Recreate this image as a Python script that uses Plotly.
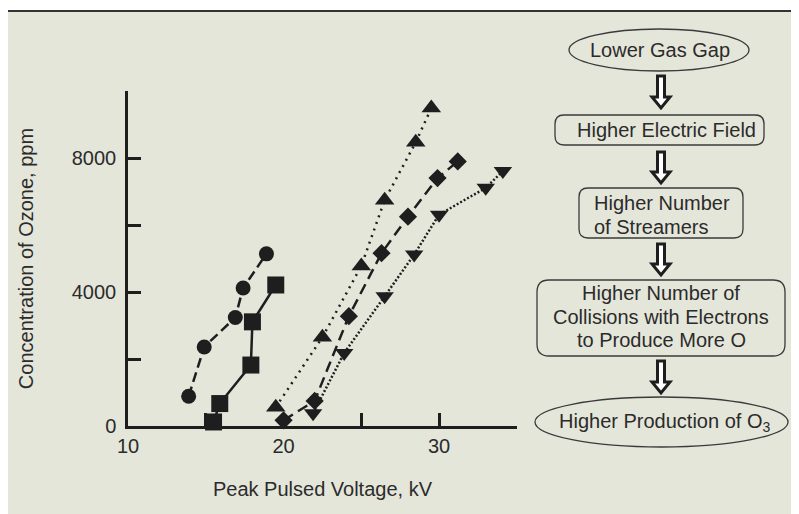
import plotly.graph_objects as go

# ---------------- data ----------------
circ_x = [13.9, 14.9, 16.9, 17.4, 18.9]
circ_y = [890, 2360, 3240, 4120, 5140]
sq_x = [15.5, 15.9, 17.9, 18.0, 19.5]
sq_y = [120, 670, 1820, 3110, 4210]
tri_up_x = [19.5, 22.5, 25.0, 26.5, 28.5, 29.5]
tri_up_y = [560, 2650, 4780, 6740, 8470, 9490]
dia_x = [20.0, 22.0, 24.2, 26.3, 28.0, 29.9, 31.2]
dia_y = [170, 750, 3280, 5160, 6250, 7400, 7900]
tri_dn_x = [21.9, 23.9, 26.5, 28.4, 30.0, 33.0, 34.1]
tri_dn_y = [380, 2180, 3870, 5120, 6310, 7110, 7610]

x_tickvals = [10, 20, 30]
x_ticktext = ["10", "20", "30"]
y_tickvals = [0, 4000, 8000]
y_ticktext = ["0", "4000", "8000"]

flow_lines = [
    ["Lower Gas Gap"],
    ["Higher Electric Field"],
    ["Higher Number", "of Streamers"],
    ["Higher Number of", "Collisions with Electrons", "to Produce More O"],
    ["Higher Production of O<sub>3</sub>"],
]

# ---------------- style ----------------
BG = "#E5E6DA"
INK = "#1e1e1e"
TXT = "#2b2b2b"
FONT = "Liberation Sans, Arial, sans-serif"
FS = 20
OFF = 8  # page body margin
W, H = 799 - OFF, 514 - OFF
# plot area in reference pixels: x 128..517, y 91..426
PW, PH = 389, 335
L, T = 128 - OFF, 91 - OFF
R, B = W - L - PW, H - T - PH


def px(x):
    return (x - 128) / PW


def py(y):
    return (426 - y) / PH


fig = go.Figure()

series = [
    (circ_x, circ_y, "circle", 15, "10px,5px"),
    (sq_x, sq_y, "square", 17, "solid"),
    (tri_up_x, tri_up_y, "triangle-up", 17, "2px,5px"),
    (dia_x, dia_y, "diamond", 14, "11px,6px"),
    (tri_dn_x, tri_dn_y, "triangle-down", 16, "2px,2px"),
]
for xs, ys, sym, sz, dash in series:
    fig.add_trace(go.Scatter(
        x=xs, y=ys, mode="lines+markers",
        line=dict(color=INK, width=2.5, dash=dash),
        marker=dict(symbol=sym, size=sz, color=INK, line=dict(width=0)),
        cliponaxis=False, showlegend=False,
    ))

shapes = []
shapes.append(dict(type="rect", xref="paper", yref="paper", layer="below",
                   x0=px(5), x1=px(830), y0=py(540), y1=py(11),
                   fillcolor=BG, line=dict(width=0)))
shapes.append(dict(type="line", xref="paper", yref="paper",
                   x0=px(5), x1=px(830), y0=py(11), y1=py(11),
                   line=dict(color="#333333", width=1.8)))
shapes.append(dict(type="line", xref="paper", yref="paper",
                   x0=px(5.5), x1=px(5.5), y0=py(11), y1=py(540),
                   line=dict(color="#333333", width=1.8)))


def rrect(x0, y0, x1, y1, r=9):
    pts = [
        ("M", [(x0 + r, y0)]),
        ("L", [(x1 - r, y0)]),
        ("Q", [(x1, y0), (x1, y0 + r)]),
        ("L", [(x1, y1 - r)]),
        ("Q", [(x1, y1), (x1 - r, y1)]),
        ("L", [(x0 + r, y1)]),
        ("Q", [(x0, y1), (x0, y1 - r)]),
        ("L", [(x0, y0 + r)]),
        ("Q", [(x0, y0), (x0 + r, y0)]),
    ]
    s = ""
    for cmd, ps in pts:
        s += cmd + " ".join(f"{px(a):.5f},{py(b):.5f}" for a, b in ps)
    return s + "Z"


def arrow(cx, y0, y1, sw=3.5, hw=9, hl=11):
    yh = y1 - hl
    p = [(cx - sw, y0), (cx + sw, y0), (cx + sw, yh), (cx + hw, yh),
         (cx, y1), (cx - hw, yh), (cx - sw, yh)]
    return "M" + "L".join(f"{px(a):.5f},{py(b):.5f}" for a, b in p) + "Z"


box_line = dict(color="#3a3a3a", width=1.3)
shapes.append(dict(type="circle", xref="paper", yref="paper",
                   x0=px(569), x1=px(749), y0=py(71), y1=py(29), line=box_line))
shapes.append(dict(type="path", xref="paper", yref="paper",
                   path=rrect(555, 115, 764, 145), line=box_line))
shapes.append(dict(type="path", xref="paper", yref="paper",
                   path=rrect(579, 188, 743, 238), line=box_line))
shapes.append(dict(type="path", xref="paper", yref="paper",
                   path=rrect(537, 280, 785, 356, r=12), line=box_line))
shapes.append(dict(type="circle", xref="paper", yref="paper",
                   x0=px(535), x1=px(788), y0=py(447), y1=py(397), line=box_line))
for a0, a1 in [(76, 108), (152, 183), (244, 275), (361, 393)]:
    shapes.append(dict(type="path", xref="paper", yref="paper",
                       path=arrow(661, a0, a1), fillcolor="white",
                       line=dict(color=INK, width=3)))

annotations = []
flow_pos = [
    (660, [50], "center"),
    (666, [130], "center"),
    (592, [203, 227], "left"),
    (661, [293, 317, 340], "center"),
    (664, [422], "center"),
]
for (x, ys, al), lines in zip(flow_pos, flow_lines):
    for y, t in zip(ys, lines):
        annotations.append(dict(
            text=t, xref="paper", yref="paper", x=px(x), y=py(y),
            xanchor="left" if al == "left" else "center", yanchor="middle",
            align=al, showarrow=False,
            font=dict(family=FONT, size=FS, color=TXT)))

minor_common = dict(ticks="inside", ticklen=13, tickwidth=2.5, tickcolor=INK,
                    showgrid=False)
axis_common = dict(
    showline=True, linewidth=2.5, linecolor=INK, ticks="inside", ticklen=13,
    tickwidth=2.5, tickcolor=INK, showgrid=False, zeroline=False,
    tickfont=dict(family=FONT, size=FS, color=TXT),
)
fig.update_layout(
    width=W, height=H, autosize=False,
    margin=dict(l=L, r=R, t=T, b=B, pad=0),
    paper_bgcolor="white", plot_bgcolor=BG,
    xaxis=dict(range=[10, 35.01], tickmode="array", tickvals=x_tickvals,
               ticktext=x_ticktext, ticklabelstandoff=0,
               minor=dict(tick0=10, dtick=5, **minor_common),
               title=dict(text="Peak Pulsed Voltage, kV", standoff=27,
                          font=dict(family=FONT, size=FS, color=TXT)),
               **axis_common),
    yaxis=dict(range=[0, 10001], tickmode="array", tickvals=y_tickvals,
               ticktext=y_ticktext, ticklabelstandoff=5,
               minor=dict(tick0=0, dtick=2000, **minor_common),
               title=dict(text="Concentration of Ozone, ppm", standoff=33,
                          font=dict(family=FONT, size=FS, color=TXT)),
               **axis_common),
    shapes=shapes, annotations=annotations,
    showlegend=False,
)

fig.write_html("out.html")
